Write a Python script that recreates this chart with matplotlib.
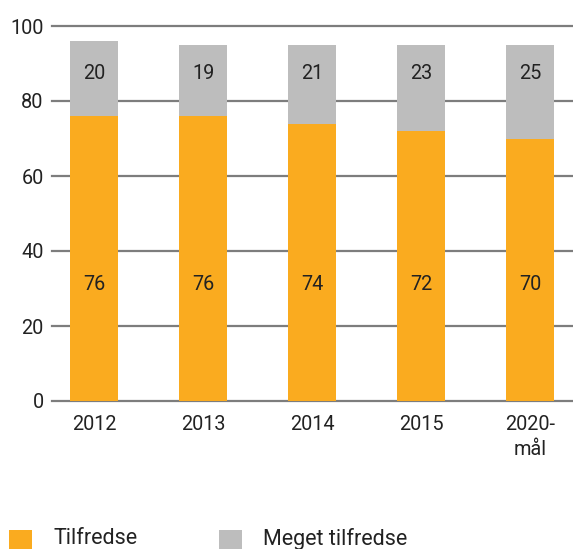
import matplotlib
matplotlib.use("Agg")
import matplotlib.pyplot as plt
from matplotlib.patches import Rectangle

categories = ["2012", "2013", "2014", "2015", "2020-\nmål"]
tilfredse = [76, 76, 74, 72, 70]
meget_tilfredse = [20, 19, 21, 23, 25]
series_names = ["Tilfredse", "Meget tilfredse"]
yticks = [0, 20, 40, 60, 80, 100]

ORANGE = "#FAAB1F"
GRAY = "#BDBDBD"
GRID = "#7D7D7D"
TEXT = "#222222"

plt.rcParams["font.family"] = ["Roboto", "DejaVu Sans"]

W, H = 573, 549
fig = plt.figure(figsize=(W / 100, H / 100), dpi=100)
ax = fig.add_axes([52 / W, 1 - 401 / H, 1 - 52 / W, 375 / H])

FS = 14.3
x = list(range(len(categories)))
ax.bar(x, tilfredse, width=0.44, color=ORANGE, zorder=3)
ax.bar(x, meget_tilfredse, bottom=tilfredse, width=0.44, color=GRAY, zorder=3)

for xi, a, b in zip(x, tilfredse, meget_tilfredse):
    ax.text(xi, 31.0, str(a), ha="center", va="center", fontsize=FS, color=TEXT, zorder=4)
    ax.text(xi, 87.3, str(b), ha="center", va="center", fontsize=FS, color=TEXT, zorder=4)

for t in yticks:
    ax.axhline(t, color=GRID, lw=1.6, zorder=2, clip_on=False)

ax.set_xlim(-0.385, 4.39)
ax.set_ylim(0, 100)
ax.set_yticks(yticks)
ax.set_yticklabels([str(t) for t in yticks], fontsize=FS, color=TEXT)
ax.set_xticks(x)
ax.set_xticklabels(categories, fontsize=FS, color=TEXT, linespacing=1.36, va="top")
ax.tick_params(axis="both", length=0)
ax.tick_params(axis="y", pad=6)
ax.tick_params(axis="x", pad=10.2)
for s in ax.spines.values():
    s.set_visible(False)

# legend
leg_items = [(9, ORANGE, 53), (219, GRAY, 263)]
for (px, col, tx), name in zip(leg_items, series_names):
    fig.patches.append(Rectangle((px / W, 0), 23 / W, 19 / H, transform=fig.transFigure,
                                 facecolor=col, edgecolor="none"))
    fig.text(tx / W, 1 - 539 / H, name, fontsize=15.5, color=TEXT, va="center", ha="left")

fig.savefig("out.png", dpi=100)
